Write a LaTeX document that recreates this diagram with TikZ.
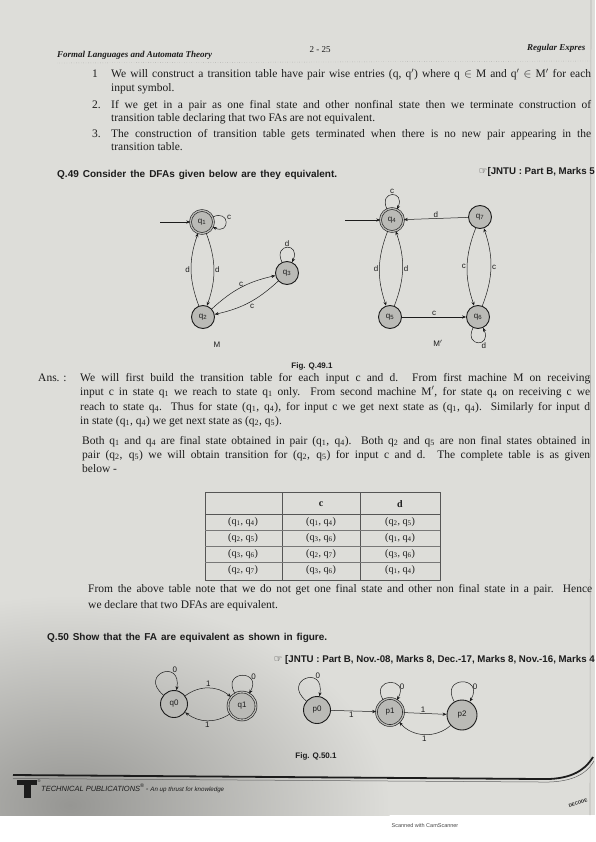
\documentclass[tikz,border=0pt]{standalone}
\usepackage{fontspec}
\setmainfont{Liberation Serif}
\newfontfamily\sansf{Liberation Sans}
\newfontfamily\dejavu{DejaVu Sans}
\usetikzlibrary{arrows.meta}
\definecolor{paper}{RGB}{221,221,217}
\definecolor{shadow}{RGB}{150,150,147}
\definecolor{ink}{RGB}{28,28,28}
\definecolor{statefill}{RGB}{186,186,182}
\newcommand\qsub[1]{q\textsubscript{#1}}
\newcommand\jline[2]{\makebox[#1pt][s]{#2}}
\begin{document}
\begin{tikzpicture}[x=1pt,y=-1pt,
  txt/.style={anchor=base west,inner sep=0pt,text=ink,font=\fontsize{11.5}{13}\selectfont},
  hdr/.style={anchor=base west,inner sep=0pt,text=ink,font=\fontsize{9}{10}\selectfont\bfseries\itshape},
  qh/.style={anchor=base west,inner sep=0pt,text=ink,font=\sansf\fontsize{10}{11}\selectfont\bfseries},
  jn/.style={anchor=base east,inner sep=0pt,text=ink,font=\sansf\fontsize{9.7}{11}\selectfont\bfseries},
  figcap/.style={inner sep=0pt,text=ink,font=\sansf\fontsize{8}{9}\selectfont\bfseries},
  cell/.style={inner sep=0pt,text=ink,font=\fontsize{10}{11}\selectfont},
  state/.style={circle,draw=ink,fill=statefill,line width=0.9pt,minimum size=23pt,inner sep=0pt,text=ink,font=\sansf\fontsize{8}{9}\selectfont},
  acc/.style={state,line width=0.6pt,double=statefill,double distance=1.3pt},
  tr/.style={-{Stealth[length=4pt,width=3.2pt]},line width=0.5pt,draw=ink},
  lbl/.style={inner sep=1pt,text=ink,font=\sansf\fontsize{8}{9}\selectfont},
  mlbl/.style={inner sep=0pt,text=ink,font=\sansf\fontsize{8}{9}\selectfont}
]
\useasboundingbox (0,0) rectangle (595,842);
\fill[white] (0,0) rectangle (595,842);
\fill[paper] (0,0) rectangle (595,815);
\begin{scope}
\clip (0,0) rectangle (595,815);
\shade[inner color=shadow,outer color=paper] (70,805) ellipse (320 and 210);
\end{scope}
\draw[paper!80!black,line width=0.6pt] (591,0) -- (590,815);

% header
\node[hdr] (h1) at (57,58) {Formal Languages and Automata Theory};
\node[inner sep=0pt,text=ink,font=\fontsize{9}{10}\selectfont] (h2) at (320,50) {2 - 25};
\node[hdr,anchor=base west] (h3) at (527,51) {Regular Expres};
\draw[ink!45,dotted,line width=0.4pt] (57,63) -- (590,61);

% numbered list
\node[txt] (n1) at (92,78) {1};
\node[txt] (l1) at (111,78) {\jline{480}{We will construct a transition table have pair wise entries (q, q$'$) where q $\in$ M and q$'$ $\in$ M$'$ for each}};
\node[txt] (l2) at (111,92) {input symbol.};
\node[txt] (n2) at (92,109) {2.};
\node[txt] (l3) at (111,109) {\jline{480}{If we get in a pair as one final state and other nonfinal state then we terminate construction of}};
\node[txt] (l4) at (111,122) {transition table declaring that two FAs are not equivalent.};
\node[txt] (n3) at (92,138) {3.};
\node[txt] (l5) at (111,138) {\jline{480}{The construction of transition table gets terminated when there is no new pair appearing in the}};
\node[txt] (l6) at (111,151) {transition table.};

% Q.49
\node[qh] (q49) at (57,178) {\jline{280}{Q.49 Consider the DFAs given below are they equivalent.}};
\node[jn] (j1) at (595,175) {{\dejavu\mdseries ☞}[JNTU : Part B, Marks 5};

% Figure Q.49.1 : machine M
\node[acc] (q1) at (202,222) {\qsub{1}};
\node[state] (q2) at (203,317) {\qsub{2}};
\node[state] (q3) at (287,273) {\qsub{3}};
\coordinate (s1) at (160,222);
\draw[tr] (s1) -- (q1);
\draw[tr] (q1) to[out=25,in=-25,looseness=5,min distance=9pt] node[lbl,anchor=south west,pos=0.45]{c} (q1);
\draw[tr] (q1) to[bend left=20] node[lbl,right]{d} (q2);
\draw[tr] (q2) to[bend left=20] node[lbl,left]{d} (q1);
\draw[tr] (q2) to[bend left=15] node[lbl,above]{c} (q3);
\draw[tr] (q3) to[bend left=15] node[lbl,below right]{c} (q2);
\draw[tr] (q3) to[out=115,in=65,looseness=5.5,min distance=8pt] node[lbl,anchor=south,inner sep=0.5pt]{d} (q3);
\node[mlbl] (mM) at (217,345) {M};

% machine M'
\node[acc] (q4) at (392,220) {\qsub{4}};
\node[state] (q7) at (480,217) {\qsub{7}};
\node[state] (q5) at (390,317) {\qsub{5}};
\node[state] (q6) at (478,317) {\qsub{6}};
\coordinate (s4) at (345,220);
\draw[tr] (s4) -- (q4);
\draw[tr] (q4) to[out=115,in=65,looseness=5.5,min distance=8pt] node[lbl,anchor=south,inner sep=0.5pt]{c} (q4);
\draw[tr] (q7) -- node[lbl,above]{d} (q4);
\draw[tr] (q4) to[bend right=20] node[lbl,left]{d} (q5);
\draw[tr] (q5) to[bend right=20] node[lbl,right]{d} (q4);
\draw[tr] (q5) -- node[lbl,above]{c} (q6);
\draw[tr] (q7) to[bend right=20] node[lbl,left]{c} (q6);
\draw[tr] (q6) to[bend right=20] node[lbl,right]{c} (q7);
\draw[tr] (q6) to[out=-115,in=-65,looseness=5.5,min distance=8pt] node[lbl,anchor=north west,pos=0.6,inner sep=0.5pt]{d} (q6);
\node[mlbl] (mM2) at (438,343) {M$'$};

\node[figcap] (cap1) at (312,366) {Fig. Q.49.1};

% answer
\node[txt] (ans) at (38,381) {Ans. :};
\node[txt] (a1) at (80,381) {\jline{510}{We will first build the transition table for each input c and d. From first machine M on receiving}};
\node[txt] (a2) at (80,395) {\jline{510}{input c in state \qsub{1} we reach to state \qsub{1} only. From second machine M$'$, for state \qsub{4} on receiving c we}};
\node[txt] (a3) at (80,410) {\jline{510}{reach to state \qsub{4}. Thus for state (\qsub{1}, \qsub{4}), for input c we get next state as (\qsub{1}, \qsub{4}). Similarly for input d}};
\node[txt] (a4) at (80,424) {in state (\qsub{1}, \qsub{4}) we get next state as (\qsub{2}, \qsub{5}).};
\node[txt] (b1) at (82,444) {\jline{508}{Both \qsub{1} and \qsub{4} are final state obtained in pair (\qsub{1}, \qsub{4}). Both \qsub{2} and \qsub{5} are non final states obtained in}};
\node[txt] (b2) at (82,458) {\jline{508}{pair (\qsub{2}, \qsub{5}) we will obtain transition for (\qsub{2}, \qsub{5}) for input c and d. The complete table is as given}};
\node[txt] (b3) at (82,472) {below -};

% table
\draw[ink!75,line width=0.5pt] (205,492) rectangle (440,580);
\draw[ink!75,line width=0.5pt] (282,492) -- (282,580) (360,492) -- (360,580);
\draw[ink!75,line width=0.5pt] (205,514) -- (440,514);
\draw[ink!60,line width=0.4pt] (205,530) -- (440,530) (205,546) -- (440,546) (205,562) -- (440,562);
\node[cell,font=\fontsize{10}{11}\selectfont\bfseries] (tc) at (321,504) {c};
\node[cell,font=\fontsize{10}{11}\selectfont\bfseries] (td) at (400,504) {d};
\node[cell] (t11) at (243,522) {(\qsub{1}, \qsub{4})};
\node[cell] (t12) at (321,522) {(\qsub{1}, \qsub{4})};
\node[cell] (t13) at (400,522) {(\qsub{2}, \qsub{5})};
\node[cell] (t21) at (243,538) {(\qsub{2}, \qsub{5})};
\node[cell] (t22) at (321,538) {(\qsub{3}, \qsub{6})};
\node[cell] (t23) at (400,538) {(\qsub{1}, \qsub{4})};
\node[cell] (t31) at (243,554) {(\qsub{3}, \qsub{6})};
\node[cell] (t32) at (321,554) {(\qsub{2}, \qsub{7})};
\node[cell] (t33) at (400,554) {(\qsub{3}, \qsub{6})};
\node[cell] (t41) at (243,570) {(\qsub{2}, \qsub{7})};
\node[cell] (t42) at (321,570) {(\qsub{3}, \qsub{6})};
\node[cell] (t43) at (400,570) {(\qsub{1}, \qsub{4})};

\node[txt] (f1) at (88,592) {\jline{504}{From the above table note that we do not get one final state and other non final state in a pair. Hence}};
\node[txt] (f2) at (88,608) {we declare that two DFAs are equivalent.};

% Q.50
\node[qh] (q50) at (47,640) {\jline{280}{Q.50 Show that the FA are equivalent as shown in figure.}};
\node[jn] (j2) at (595,662) {{\dejavu\mdseries ☞} [JNTU : Part B, Nov.-08, Marks 8, Dec.-17, Marks 8, Nov.-16, Marks 4};

% Figure Q.50.1
\node[state,minimum size=27pt] (fq0) at (174,704) {q0};
\node[acc,minimum size=28pt] (fq1) at (242,706) {q1};
\draw[tr] (fq0) to[out=140,in=80,looseness=6,min distance=12pt] node[lbl,anchor=south west,pos=0.72,inner sep=0.3pt]{0} (fq0);
\draw[tr] (fq1) to[out=120,in=60,looseness=5,min distance=12pt] node[lbl,anchor=south west,pos=0.75,inner sep=0.3pt]{0} (fq1);
\draw[tr] (fq0) to[bend left=38] node[lbl,above]{1} (fq1);
\draw[tr] (fq1) to[bend left=35] node[lbl,below]{1} (fq0);

\node[state,minimum size=27pt] (p0) at (317,710) {p0};
\node[acc,minimum size=27pt] (p1) at (390,712) {p1};
\node[state,minimum size=30pt] (p2) at (462,715) {p2};
\draw[tr] (p0) to[out=140,in=80,looseness=6,min distance=12pt] node[lbl,anchor=south west,pos=0.72,inner sep=0.3pt]{0} (p0);
\draw[tr] (p1) to[out=120,in=60,looseness=5,min distance=12pt] node[lbl,anchor=west,pos=0.75]{0} (p1);
\draw[tr] (p2) to[out=120,in=60,looseness=5,min distance=12pt] node[lbl,anchor=west,pos=0.75]{0} (p2);
\draw[tr] (p0) -- node[lbl,below,pos=0.45]{1} (p1);
\draw[tr] (p1) -- node[lbl,above,pos=0.45]{1} (p2);
\draw[tr] (p2) to[bend left=45] node[lbl,below]{1} (p1);

\node[figcap] (cap2) at (316,756) {Fig. Q.50.1};

% footer
\draw[ink,line width=1.8pt] (13,775) -- (540,779) .. controls (568,780) and (584,772) .. (593,757);
\draw[ink!70,line width=0.5pt] (13,778.5) -- (540,782) .. controls (570,783) and (586,775) .. (594,761);
\fill[ink] (17,780) rectangle (37,785);
\fill[ink] (24,785) rectangle (31,798);
\node[inner sep=0pt,text=ink,font=\sansf\fontsize{4}{5}\selectfont] (reg) at (39,781) {\textregistered};
\node[anchor=base west,inner sep=0pt,text=ink,font=\sansf\fontsize{7.5}{8}\selectfont\itshape] (tp) at (41,791) {TECHNICAL PUBLICATIONS\textsuperscript{\textregistered}\,- {\fontsize{6.2}{7}\selectfont An up thrust for knowledge}};
\node[inner sep=1pt,text=ink,font=\sansf\fontsize{4.5}{5}\selectfont\bfseries,rotate=18] (dec) at (578,803) {DECODE};
\node[inner sep=0pt,text=ink!80,font=\sansf\fontsize{5.5}{6}\selectfont] (cs) at (425,826) {Scanned with CamScanner};
\end{tikzpicture}
\end{document}
